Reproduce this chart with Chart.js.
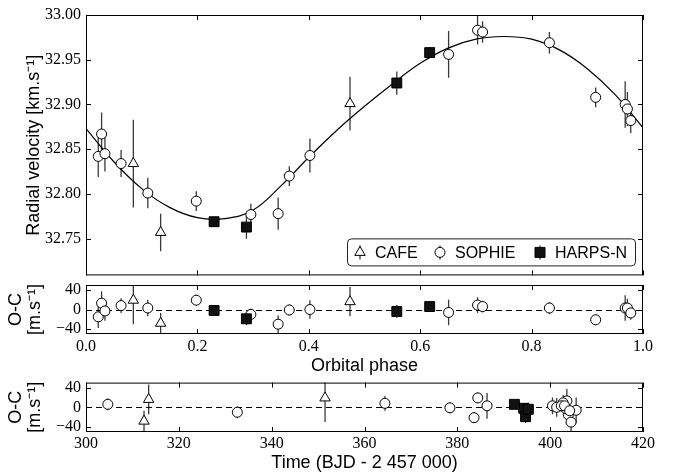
<!DOCTYPE html>
<html>
<head>
<meta charset="utf-8">
<script src="https://cdn.jsdelivr.net/npm/chart.js@4.4.1/dist/chart.umd.min.js"></script>
<style>
    body { margin: 0; background: #fff; }
    #wrap { position: relative; width: 673px; height: 474px; }
    canvas { position: absolute; left: 0; }
</style>
</head>
<body>
<div id="wrap">
    <canvas id="rvChart" width="673" height="290" style="top:0px"></canvas>
    <canvas id="ocPhaseChart" width="673" height="110" style="top:270px"></canvas>
    <canvas id="ocTimeChart" width="673" height="106" style="top:368px"></canvas>
</div>
<script>
// ticks
const phaseTicks = [0, 0.2, 0.4, 0.6, 0.8, 1.0];
const timeTicks = [300, 320, 340, 360, 380, 400, 420];
const rvTicks = [32.75, 32.80, 32.85, 32.90, 32.95, 33.00];
const ocTicks = [-40, 0, 40];

const legendLabels = ["CAFE", "SOPHIE", "HARPS-N"];

// CAFE
const cafePhase = [0.085, 0.134, 0.474];
const cafeRv = [32.834, 32.757, 32.901];
const cafeErr = [49, 21, 30];          // m/s
const cafeOc = [19, -28, 16];          // m/s
const cafeTime = [351.5, 312.5, 313.5];

// SOPHIE
const sophiePhase = [0.022, 0.028, 0.034, 0.063, 0.111, 0.198, 0.296, 0.345, 0.365, 0.402, 0.651, 0.703, 0.712, 0.832, 0.915, 0.968, 0.972, 0.978];
const sophieRv = [32.842, 32.867, 32.845, 32.834, 32.801, 32.792, 32.777, 32.778, 32.820, 32.843, 32.956, 32.983, 32.981, 32.969, 32.908, 32.900, 32.895, 32.882];
const sophieErr = [23, 24, 20, 15, 17, 11, 12, 18, 11, 19, 26, 16, 12, 12, 11, 26, 19, 14];
const sophieOc = [-15, 13, -3, 8, 3, 19, -10, -30, -1, 0, -6, 9, 6, 3, -21, 3, 3, -7];
const sophieTime = [403.9, 403.6, 403.4, 364.4, 400.5, 384.4, 332.6, 404.5, 378.4, 401.4, 405.6, 402.8, 304.7, 402.4, 383.6, 386.4, 403.1, 404.2];

// HARPS-N
const harpsPhase = [0.230, 0.288, 0.558, 0.617];
const harpsRv = [32.769, 32.763, 32.924, 32.958];
const harpsErr = [4, 13, 13, 6];
const harpsOc = [-2, -19, -4, 6];
const harpsTime = [394.3, 394.7, 395.3, 392.3];

// fitted orbit
const modelPhase = [0, 0.05, 0.10, 0.15, 0.20, 0.25, 0.30, 0.35, 0.40, 0.45, 0.50, 0.55, 0.60, 0.65, 0.70, 0.75, 0.80, 0.85, 0.90, 0.95, 1.00];
const modelRv = [32.873, 32.836, 32.806, 32.785, 32.7735, 32.7725, 32.782, 32.809, 32.841, 32.871, 32.898, 32.923, 32.946, 32.963, 32.973, 32.976, 32.973, 32.961, 32.940, 32.911, 32.874];

const tickFont = { family: "Liberation Serif", size: 16 };
const labelFont = { family: "Liberation Sans", size: 18 };

Chart.defaults.color = "#000";

function pts(xs, ys) {
    return xs.map((x, i) => ({ x: x, y: ys[i] }));
}

const markerStyles = {
    cafe: { pointStyle: "triangle", pointRadius: 6, pointBackgroundColor: "#fff", pointBorderColor: "#000", pointBorderWidth: 1 },
    sophie: { pointStyle: "circle", pointRadius: 5, pointBackgroundColor: "#fff", pointBorderColor: "#000", pointBorderWidth: 1 },
    harps: { pointStyle: "rect", pointRadius: 7, pointBackgroundColor: "#111", pointBorderColor: "#000", pointBorderWidth: 1 }
};

function scatterSet(style, data, err) {
    return Object.assign({ type: "scatter", data: data, err: err, showLine: false, pointHoverRadius: 0 }, style);
}

// vertical error bars, drawn under the markers
const errorBars = {
    id: "errorBars",
    beforeDatasetsDraw(chart) {
        const { ctx, chartArea: a } = chart;
        const x = chart.scales.x, y = chart.scales.y;
        ctx.save();
        ctx.beginPath();
        ctx.rect(a.left, a.top, a.width, a.height);
        ctx.clip();
        ctx.strokeStyle = "#3a3a3a";
        ctx.lineWidth = 1.3;
        chart.data.datasets.forEach(ds => {
            if (!ds.err) return;
            ds.data.forEach((p, i) => {
                const px = x.getPixelForValue(p.x);
                ctx.beginPath();
                ctx.moveTo(px, y.getPixelForValue(p.y - ds.err[i]));
                ctx.lineTo(px, y.getPixelForValue(p.y + ds.err[i]));
                ctx.stroke();
            });
        });
        ctx.restore();
    }
};

const zeroLine = {
    id: "zeroLine",
    beforeDatasetsDraw(chart) {
        const { ctx, chartArea: a } = chart;
        const py = Math.round(chart.scales.y.getPixelForValue(0)) + 0.5;
        ctx.save();
        ctx.strokeStyle = "#000";
        ctx.lineWidth = 1;
        ctx.setLineDash([6, 4]);
        ctx.beginPath();
        ctx.moveTo(a.left, py);
        ctx.lineTo(a.right, py);
        ctx.stroke();
        ctx.restore();
    }
};

// matplotlib-like frame with inward ticks on all sides
function frameTicks(xTicks, yTicks) {
    return {
        id: "frameTicks",
        afterDatasetsDraw(chart) {
            const { ctx, chartArea: a } = chart;
            const x = chart.scales.x, y = chart.scales.y;
            ctx.save();
            ctx.strokeStyle = "#000";
            ctx.lineWidth = 1;
            ctx.strokeRect(a.left + 0.5, a.top + 0.5, a.width - 1, a.height - 1);
            ctx.beginPath();
            xTicks.forEach(v => {
                const px = Math.round(x.getPixelForValue(v)) + 0.5;
                ctx.moveTo(px, a.bottom); ctx.lineTo(px, a.bottom - 5);
                ctx.moveTo(px, a.top); ctx.lineTo(px, a.top + 5);
            });
            yTicks.forEach(v => {
                const py = Math.round(y.getPixelForValue(v)) + 0.5;
                ctx.moveTo(a.left, py); ctx.lineTo(a.left + 5, py);
                ctx.moveTo(a.right, py); ctx.lineTo(a.right - 5, py);
            });
            ctx.stroke();
            ctx.restore();
        }
    };
}

function drawMarker(ctx, kind, cx, cy) {
    ctx.beginPath();
    if (kind === "triangle") {
        const r = 6;
        ctx.moveTo(cx, cy - r);
        ctx.lineTo(cx + r * 0.866, cy + r * 0.5);
        ctx.lineTo(cx - r * 0.866, cy + r * 0.5);
        ctx.closePath();
        ctx.fillStyle = "#fff";
    } else if (kind === "circle") {
        ctx.arc(cx, cy, 5, 0, Math.PI * 2);
        ctx.fillStyle = "#fff";
    } else {
        ctx.rect(cx - 5, cy - 5, 10, 10);
        ctx.fillStyle = "#111";
    }
    ctx.fill();
    ctx.stroke();
}

const legendBox = {
    id: "legendBox",
    afterDatasetsDraw(chart) {
        const { ctx, chartArea: a } = chart;
        const left = a.right - 296, top = a.bottom - 37, w = 288, h = 27;
        ctx.save();
        ctx.fillStyle = "#fff";
        ctx.strokeStyle = "#222";
        ctx.lineWidth = 1;
        ctx.beginPath();
        ctx.roundRect(left + 0.5, top + 0.5, w, h, 4);
        ctx.fill();
        ctx.stroke();
        const cy = top + h / 2 + 0.5;
        const kinds = ["triangle", "circle", "rect"];
        const offs = [13, 93, 193];
        ctx.font = "16px 'Liberation Sans'";
        ctx.textBaseline = "middle";
        kinds.forEach((k, i) => {
            const mx = left + offs[i];
            ctx.strokeStyle = "#3a3a3a";
            ctx.lineWidth = 1.3;
            ctx.beginPath();
            ctx.moveTo(mx, cy - 7);
            ctx.lineTo(mx, cy + 7);
            ctx.stroke();
            ctx.strokeStyle = "#000";
            ctx.lineWidth = 1;
            drawMarker(ctx, k, mx, cy);
            ctx.fillStyle = "#000";
            ctx.fillText(legendLabels[i], mx + 15, cy + 1);
        });
        ctx.restore();
    }
};

function fixedTicks(list) {
    return scale => { scale.ticks = list.map(v => ({ value: v })); };
}

function yScale(min, max, list, fmt, title) {
    return {
        type: "linear",
        min: min,
        max: max,
        afterBuildTicks: fixedTicks(list),
        afterFit: s => { s.width = 86; },
        grid: { display: false, drawTicks: false },
        border: { display: false },
        ticks: { padding: 5, font: tickFont, callback: fmt },
        title: title
    };
}

function xScale(min, max, list, fmt, title, height, labelPad) {
    return {
        type: "linear",
        min: min,
        max: max,
        afterBuildTicks: fixedTicks(list),
        afterFit: s => { s.height = height; },
        grid: { display: false, drawTicks: false },
        border: { display: false },
        ticks: { padding: labelPad, font: tickFont, maxRotation: 0, callback: fmt },
        title: title
    };
}

function baseOptions(padding, xCfg, yCfg) {
    return {
        responsive: false,
        animation: false,
        devicePixelRatio: 1,
        layout: { padding: padding },
        plugins: { legend: { display: false }, tooltip: { enabled: false } },
        scales: { x: xCfg, y: yCfg }
    };
}

const ocFmt = v => (v < 0 ? "\u2212" + Math.abs(v) : String(v));
const ocTitle = {
    display: true,
    text: ["O-C", "[m.s\u207B\u00B9]"],
    font: { family: "Liberation Sans", size: 18, lineHeight: 1.05 },
    padding: { top: 7, bottom: 0 }
};

// top panel: radial velocity vs phase
const rvX = { type: "linear", min: 0, max: 1, display: false };
new Chart(document.getElementById("rvChart"), {
    type: "scatter",
    data: {
        datasets: [
            scatterSet(markerStyles.harps, pts(harpsPhase, harpsRv), harpsErr.map(e => e / 1000)),
            scatterSet(markerStyles.sophie, pts(sophiePhase, sophieRv), sophieErr.map(e => e / 1000)),
            scatterSet(markerStyles.cafe, pts(cafePhase, cafeRv), cafeErr.map(e => e / 1000)),
            {
                type: "line",
                data: pts(modelPhase, modelRv),
                borderColor: "#000",
                borderWidth: 1.2,
                pointRadius: 0,
                tension: 0.4,
                fill: false
            }
        ]
    },
    options: baseOptions({ top: 15, bottom: 5, left: 0, right: 30 }, rvX,
        yScale(32.709, 33.0, rvTicks, v => v.toFixed(2), {
            display: true,
            text: "Radial velocity [km.s\u207B\u00B9]",
            font: labelFont,
            padding: { top: 23, bottom: 0 }
        })),
    plugins: [errorBars, frameTicks(phaseTicks, rvTicks), legendBox]
});

// middle panel: O-C vs phase
new Chart(document.getElementById("ocPhaseChart"), {
    type: "scatter",
    data: {
        datasets: [
            scatterSet(markerStyles.harps, pts(harpsPhase, harpsOc), harpsErr),
            scatterSet(markerStyles.sophie, pts(sophiePhase, sophieOc), sophieErr),
            scatterSet(markerStyles.cafe, pts(cafePhase, cafeOc), cafeErr)
        ]
    },
    options: baseOptions({ top: 15, bottom: 0, left: 0, right: 30 },
        xScale(0, 1, phaseTicks, v => v.toFixed(1), {
            display: true, text: "Orbital phase", font: labelFont, padding: { top: 0, bottom: 3 }
        }, 46, 3),
        yScale(-50, 50, ocTicks, ocFmt, ocTitle)),
    plugins: [errorBars, zeroLine, frameTicks(phaseTicks, ocTicks)]
});

// bottom panel: O-C vs time
new Chart(document.getElementById("ocTimeChart"), {
    type: "scatter",
    data: {
        datasets: [
            scatterSet(markerStyles.harps, pts(harpsTime, harpsOc), harpsErr),
            scatterSet(markerStyles.sophie, pts(sophieTime, sophieOc), sophieErr),
            scatterSet(markerStyles.cafe, pts(cafeTime, cafeOc), cafeErr)
        ]
    },
    options: baseOptions({ top: 14, bottom: 0, left: 0, right: 30 },
        xScale(300, 420, timeTicks, v => String(v), {
            display: true, text: "Time (BJD - 2 457 000)", font: labelFont, padding: { top: 0, bottom: 0 }
        }, 42, 2),
        yScale(-50, 50, ocTicks, ocFmt, ocTitle)),
    plugins: [errorBars, zeroLine, frameTicks(timeTicks, ocTicks)]
});
</script>
</body>
</html>
